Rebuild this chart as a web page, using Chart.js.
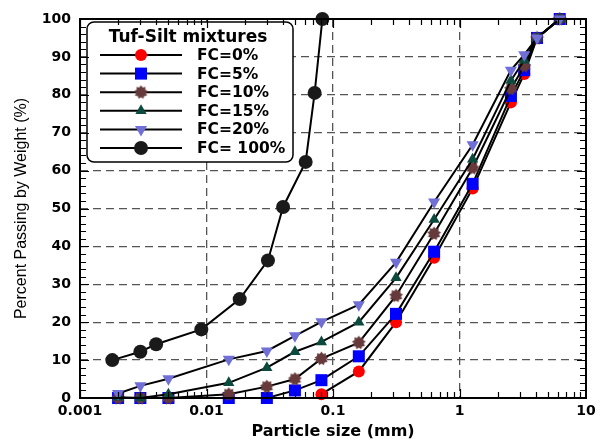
<!DOCTYPE html>
<html><head><meta charset="utf-8">
<script src="https://cdn.jsdelivr.net/npm/chart.js@4/dist/chart.umd.min.js"></script>
<style>html,body{margin:0;padding:0;background:#fff}</style>
</head><body>
<canvas id="c" width="610" height="441"></canvas>
<script>
// ---- data ----
const seriesNames = ['FC=0%', 'FC=5%', 'FC=10%', 'FC=15%', 'FC=20%', 'FC= 100%'];
const sizesFC0 = [0.081, 0.16, 0.315, 0.63, 1.27, 2.55, 3.25, 4.1, 6.2];
const sizesTufSilt = [0.002, 0.003, 0.005, 0.015, 0.03, 0.05, 0.081, 0.16, 0.315, 0.63, 1.27, 2.55, 3.25, 4.1, 6.2];
const sizesFC100 = [0.0018, 0.003, 0.004, 0.0091, 0.0183, 0.0306, 0.0403, 0.0608, 0.0716, 0.0824];
const passFC0 = [1, 7, 20, 37, 55.3, 78, 85.5, 95, 100];
const passFC5 = [0, 0, 0, 0, 0, 2, 4.7, 11, 22.2, 38.6, 56.5, 79.7, 86.5, 95, 100];
const passFC10 = [0, 0, 0, 1, 3, 5, 10.4, 14.6, 27, 43.4, 60.7, 81.6, 87.6, 95, 100];
const passFC15 = [0.2, 0, 1, 4, 8, 12.2, 14.8, 20, 31.7, 47.1, 63, 83.8, 89.1, 95, 100];
const passFC20 = [1.2, 3.2, 5.1, 10.2, 12.4, 16.4, 20.1, 24.6, 35.8, 51.7, 66.8, 86.5, 90.6, 95, 100];
const passFC100 = [10, 12.2, 14.2, 18.1, 26.1, 36.3, 50.4, 62.3, 80.5, 100];
const xTickValues = [0.001, 0.01, 0.1, 1, 10];
const yMin = 0, yMax = 100, yStep = 10;
const legendTitle = 'Tuf-Silt mixtures';
const xTitle = 'Particle size (mm)';
const yTitle = 'Percent Passing by Weight (%)';

function makeStar(color) {
  const c = document.createElement('canvas');
  c.width = 15; c.height = 15;
  const g = c.getContext('2d');
  g.fillStyle = color; g.beginPath();
  const n = 9;
  for (let i = 0; i < 2 * n; i++) {
    const r = i % 2 ? 5 : 7;
    const a = i * Math.PI / n - Math.PI / 2;
    g.lineTo(7.5 + r * Math.cos(a), 7.5 + r * Math.sin(a));
  }
  g.closePath(); g.fill();
  return c;
}

const styles = [
  {color: '#ff0000', pointStyle: 'circle', radius: 6, rotation: 0},
  {color: '#0000ff', pointStyle: 'rect', radius: 8.5, rotation: 0},
  {color: '#663a3a', pointStyle: makeStar('#663a3a'), radius: 7, rotation: 0},
  {color: '#0c4a3e', pointStyle: 'triangle', radius: 6.5, rotation: 0},
  {color: '#6f6fd6', pointStyle: 'triangle', radius: 7, rotation: 180},
  {color: '#1a1a1a', pointStyle: 'circle', radius: 7, rotation: 0}
];
const xs = [sizesFC0, sizesTufSilt, sizesTufSilt, sizesTufSilt, sizesTufSilt, sizesFC100];
const ys = [passFC0, passFC5, passFC10, passFC15, passFC20, passFC100];

const datasets = seriesNames.map((name, k) => ({
  label: name,
  data: xs[k].map((x, i) => ({x: x, y: ys[k][i]})),
  showLine: true,
  borderColor: '#000',
  borderWidth: 2,
  tension: 0,
  pointStyle: styles[k].pointStyle,
  pointRadius: styles[k].radius,
  pointRotation: styles[k].rotation,
  pointBackgroundColor: styles[k].color,
  pointBorderColor: styles[k].color,
  pointBorderWidth: 0,
  clip: false,
  order: 5 - k
}));

const legendPlugin = {
  id: 'boxLegend',
  afterDatasetsDraw(chart) {
    const ctx = chart.ctx;
    const a = chart.chartArea;
    ctx.save();
    const bx = a.left + 7, by = a.top + 3, bw = 206, bh = 140;
    ctx.beginPath();
    ctx.roundRect(bx, by, bw, bh, 7);
    ctx.fillStyle = '#fff'; ctx.fill();
    ctx.lineWidth = 1.5; ctx.strokeStyle = '#000'; ctx.stroke();
    ctx.fillStyle = '#000';
    ctx.font = 'bold 17px "DejaVu Sans"';
    ctx.textAlign = 'center'; ctx.textBaseline = 'middle';
    ctx.fillText(legendTitle, bx + 101, by + 16);
    ctx.font = 'bold 15.5px "DejaVu Sans"';
    ctx.textAlign = 'left';
    for (let k = 0; k < seriesNames.length; k++) {
      const y = by + 33 + k * 18.6;
      ctx.beginPath(); ctx.moveTo(bx + 13, y); ctx.lineTo(bx + 95, y);
      ctx.lineWidth = 2; ctx.strokeStyle = '#000'; ctx.stroke();
      ctx.fillStyle = styles[k].color; ctx.strokeStyle = styles[k].color;
      Chart.helpers.drawPoint(ctx, {pointStyle: styles[k].pointStyle, rotation: styles[k].rotation, radius: styles[k].radius, borderWidth: 0}, bx + 54, y);
      ctx.fillStyle = '#000';
      ctx.fillText(seriesNames[k], bx + 110, y + 1);
    }
    ctx.restore();
  },
  afterDraw(chart) {
    const ctx = chart.ctx;
    const {left, right, top, bottom} = chart.chartArea;
    const xs_ = chart.scales.x, ys_ = chart.scales.y;
    ctx.save();
    ctx.strokeStyle = '#000'; ctx.lineWidth = 1.2;
    ctx.beginPath();
    for (let d = 0; d < xTickValues.length - 1; d++) {
      for (let m = 1; m <= 9; m++) {
        const px = Math.round(xs_.getPixelForValue(xTickValues[d] * m)) + 0.5;
        const len = m === 1 ? 9 : 6;
        ctx.moveTo(px, bottom); ctx.lineTo(px, bottom - len);
        ctx.moveTo(px, top); ctx.lineTo(px, top + len);
      }
    }
    for (let v = yMin; v <= yMax; v += 2) {
      const py = Math.round(ys_.getPixelForValue(v)) + 0.5;
      const len = v % 10 === 0 ? 9 : 6;
      ctx.moveTo(left, py); ctx.lineTo(left + len, py);
      ctx.moveTo(right, py); ctx.lineTo(right - len, py);
    }
    ctx.stroke();
    ctx.lineWidth = 2;
    ctx.strokeRect(left, top, right - left, bottom - top);
    ctx.restore();
  }
};

const tickFont = {family: '"DejaVu Sans"', size: 14, weight: 'bold'};
new Chart(document.getElementById('c'), {
  type: 'scatter',
  data: {datasets: datasets},
  plugins: [legendPlugin],
  options: {
    responsive: false,
    animation: false,
    devicePixelRatio: 1,
    layout: {padding: {left: 0, right: 24, top: 19, bottom: 0}},
    plugins: {legend: {display: false}, tooltip: {enabled: false}},
    scales: {
      x: {
        type: 'logarithmic', min: 0.001, max: 10,
        afterBuildTicks(scale) { scale.ticks = xTickValues.map(v => ({value: v, major: true})); },
        afterFit(scale) { scale.height = 43; },
        ticks: {font: tickFont, color: '#000', padding: 5, maxRotation: 0, autoSkip: false,
          callback: (v) => String(v)},
        grid: {color: '#555', lineWidth: 1.3, drawTicks: false},
        border: {display: false, dash: [8, 5]},
        title: {display: true, text: xTitle, color: '#000',
          font: {family: '"DejaVu Sans"', size: 16, weight: 'bold'}, padding: {top: 0, bottom: 0}}
      },
      y: {
        min: yMin, max: yMax,
        afterFit(scale) { scale.width = 80; },
        ticks: {stepSize: yStep, font: tickFont, color: '#000', padding: 9},
        grid: {color: '#555', lineWidth: 1.3, drawTicks: false},
        border: {display: false, dash: [8, 5]},
        title: {display: true, text: yTitle, color: '#000',
          font: {family: '"Liberation Sans"', size: 16, weight: 'normal'}, padding: {top: 12, bottom: 0}}
      }
    }
  }
});
</script>
</body></html>
